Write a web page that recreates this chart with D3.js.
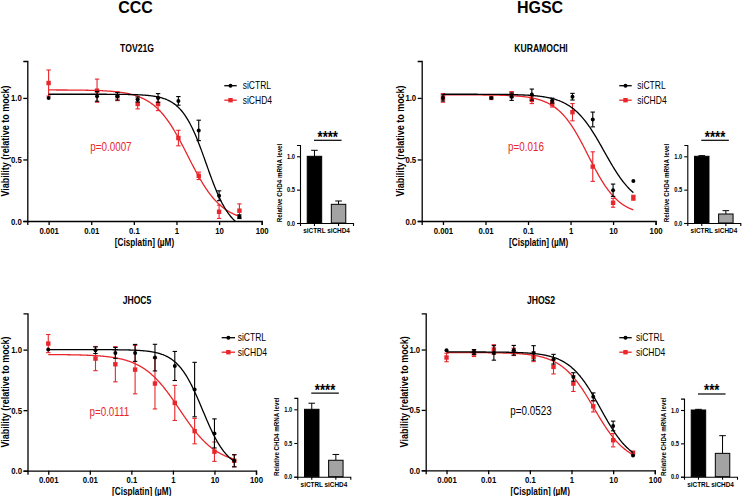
<!DOCTYPE html>
<html><head><meta charset="utf-8">
<script src="https://cdn.jsdelivr.net/npm/d3@7"></script>
<style>
body{margin:0;background:#fff}
svg{display:block}
text{font-family:"Liberation Sans",Arial,sans-serif;fill:#000}
</style>
</head><body>
<svg id="c" width="750" height="496"></svg>
<script>
// ---------- DATA ----------
const groupTitles = ["CCC", "HGSC"];
const cellLines = ["TOV21G", "KURAMOCHI", "JHOC5", "JHOS2"];
const seriesNames = ["siCTRL", "siCHD4"];
const xTicks = [0.001, 0.01, 0.1, 1, 10, 100];
const yTicks = [0, 0.5, 1.0];
const insetTicks = [0, 0.5, 1.0];

const doses9 = [0.001, 0.0137, 0.0412, 0.123, 0.37, 1.11, 3.33, 10, 30];
const doses10 = [0.001, 0.00457, 0.0137, 0.0412, 0.123, 0.37, 1.11, 3.33, 10, 30];

// TOV21G
const tovCtrl    = [1.00, 1.013, 1.013, 0.987, 1.00, 0.976, 0.736, 0.205, 0.035];
const tovCtrlErr = [0.005, 0.04, 0.03, 0.02, 0.035, 0.035, 0.083, 0.04, 0.015];
const tovChd4    = [1.121, 1.059, 1.013, 0.951, 0.951, 0.674, 0.367, 0.075, 0.084];
const tovChd4Err = [0.106, 0.094, 0.035, 0.04, 0.054, 0.063, 0.03, 0.054, 0.055];
// KURAMOCHI
const kurCtrl    = [1.00, 1.00, 1.01, 1.027, 0.978, 1.01, 0.825, 0.25, 0.326];
const kurCtrlErr = [0.025, 0.01, 0.03, 0.045, 0.02, 0.027, 0.06, 0.05, 0.0];
const kurChd4    = [1.00, 1.00, 1.027, 0.984, 0.951, 0.884, 0.442, 0.148, 0.189];
const kurChd4Err = [0.035, 0.01, 0.025, 0.03, 0.025, 0.07, 0.12, 0.036, 0.02];
// JHOC5
const jc5Ctrl    = [1.00, 0.995, 0.973, 0.973, 0.934, 0.865, 0.67, 0.308, 0.082];
const jc5CtrlErr = [0.005, 0.027, 0.045, 0.07, 0.11, 0.12, 0.225, 0.12, 0.05];
const jc5Chd4    = [1.05, 0.926, 0.879, 0.835, 0.72, 0.56, 0.327, 0.157, 0.082];
const jc5Chd4Err = [0.075, 0.1, 0.145, 0.2, 0.21, 0.145, 0.105, 0.08, 0.05];
// JHOS2
const js2Ctrl    = [0.994, 0.98, 0.972, 0.994, 0.972, 0.92, 0.773, 0.608, 0.367, 0.122];
const js2CtrlErr = [0.01, 0.02, 0.06, 0.04, 0.06, 0.04, 0.035, 0.033, 0.04, 0.008];
const js2Chd4    = [0.934, 0.967, 1.00, 0.98, 0.94, 0.856, 0.718, 0.53, 0.249, 0.146];
const js2Chd4Err = [0.035, 0.025, 0.04, 0.03, 0.04, 0.058, 0.065, 0.047, 0.055, 0.008];

// 4-parameter logistic fits: [top, bottom, IC50 (µM), Hill slope]
const tovFitCtrl = [1.03, -0.10, 5.0, 1.5];
const tovFitChd4 = [1.065, -0.01, 1.86, 1.1];
const kurFitCtrl = [1.03, 0.10, 6.2, 1.15];
const kurFitChd4 = [1.025, 0.04, 2.6, 1.2];
const jc5FitCtrl = [1.00, 0.00, 5.2, 1.42];
const jc5FitChd4 = [0.96, 0.05, 1.45, 0.97];
const js2FitCtrl = [0.98, 0.04, 5.0, 1.15];
const js2FitChd4 = [0.975, 0.05, 3.5, 1.1];

const pValues = ["p=0.0007", "p=0.016", "p=0.0111", "p=0.0523"];
const pSignificant = [true, true, true, false];

// inset: relative CHD4 mRNA level
const mrnaCats = ["siCTRL", "siCHD4"];
const mrnaTov = [1.0, 0.28];  const mrnaTovErr = [0.09, 0.05];
const mrnaKur = [1.0, 0.135]; const mrnaKurErr = [0.01, 0.05];
const mrnaJc5 = [1.0, 0.244]; const mrnaJc5Err = [0.09, 0.086];
const mrnaJs2 = [1.0, 0.35];  const mrnaJs2Err = [0.01, 0.265];
const mrnaStars = ["****", "****", "****", "***"];

// ---------- LAYOUT ----------
const RED = "#e8262b";
const SX = 0.82; // narrow (Arial Narrow-like) letter width
const layout = [
  {x0:27.3, x1:261.7, yTop:61, yBot:221, tx:137, leg:[224.3,236.7,242.7,85.7], pPos:[0.0095,0.6],
   inset:{x:300, y0:223, y1:156.3}},
  {x0:421.7, x1:655.6, yTop:61, yBot:221, tx:541, leg:[619.3,631.7,637.3,85.7], pPos:[0.034,0.6],
   inset:{x:687.3, y0:223, y1:156.3}},
  {x0:27.5, x1:256, yTop:313.3, yBot:470.7, tx:137, leg:[221.7,235,237.7,337.7], pPos:[0.0098,0.49],
   inset:{x:297.3, y0:476.7, y1:409.3}},
  {x0:425.7, x1:654.8, yTop:313.3, yBot:470.3, tx:541, leg:[619.3,631.7,636,337.7], pPos:[0.034,0.49],
   inset:{x:684, y0:476.7, y1:410}}
];

const panelData = [
  {doses:doses9, c:tovCtrl, ce:tovCtrlErr, k:tovChd4, ke:tovChd4Err, fc:tovFitCtrl, fk:tovFitChd4, m:mrnaTov, me:mrnaTovErr},
  {doses:doses9, c:kurCtrl, ce:kurCtrlErr, k:kurChd4, ke:kurChd4Err, fc:kurFitCtrl, fk:kurFitChd4, m:mrnaKur, me:mrnaKurErr},
  {doses:doses9, c:jc5Ctrl, ce:jc5CtrlErr, k:jc5Chd4, ke:jc5Chd4Err, fc:jc5FitCtrl, fk:jc5FitChd4, m:mrnaJc5, me:mrnaJc5Err},
  {doses:doses10, c:js2Ctrl, ce:js2CtrlErr, k:js2Chd4, ke:js2Chd4Err, fc:js2FitCtrl, fk:js2FitChd4, m:mrnaJs2, me:mrnaJs2Err}
];

const svg = d3.select("#c");

// narrow text helper: draws text at (x,y) with optional rotation, compressed horizontally
function ntext(parent, x, y, str, size, opts = {}) {
  const t = parent.append("text")
    .attr("transform", `translate(${x},${y})` + (opts.rot ? ` rotate(${opts.rot})` : "") + ` scale(${opts.sx || SX},1)`)
    .attr("text-anchor", opts.anchor || "start")
    .style("font-size", size + "px")
    .style("font-weight", opts.bold ? "bold" : "normal")
    .text(str);
  if (opts.fill) t.style("fill", opts.fill);
  return t;
}
function narrowAxis(a) {
  a.selectAll("text").each(function () {
    const t = d3.select(this);
    const x = +t.attr("x") || 0, y = +t.attr("y") || 0;
    t.attr("x", 0).attr("y", 0).attr("transform", `translate(${x},${y}) scale(${SX},1)`);
  });
}

// group titles
ntext(svg, 135.5, 13, groupTitles[0], 16, {anchor:"middle", bold:true, sx:1});
ntext(svg, 540, 13, groupTitles[1], 16, {anchor:"middle", bold:true, sx:1});

function fourPL(p, x){ return p[1] + (p[0]-p[1])/(1+Math.pow(x/p[2], p[3])); }

layout.forEach((L, i) => {
  const D = panelData[i];
  const g = svg.append("g");
  const x = d3.scaleLog().domain([Math.pow(10,-3.5), 100]).range([L.x0, L.x1]);
  const y = d3.scaleLinear().domain([0, 1.3]).range([L.yBot, L.yTop]);

  // title
  ntext(g, L.tx, L.yTop - 9, cellLines[i], 10.5, {anchor:"middle", bold:true});

  // axes
  const xa = g.append("g").attr("transform",`translate(0,${L.yBot})`)
    .call(d3.axisBottom(x).tickValues(xTicks).tickFormat(d3.format("~g")).tickSizeOuter(0).tickSize(4).tickPadding(2));
  const ya = g.append("g").attr("transform",`translate(${L.x0},0)`)
    .call(d3.axisLeft(y).tickValues(yTicks).tickFormat(d3.format(".1f")).tickSizeOuter(0).tickSize(4).tickPadding(1.5));
  [xa, ya].forEach(a => {
    a.selectAll("path,line").attr("stroke","#000").attr("stroke-width",1.3);
    a.selectAll("text").style("font-size","9.5px").style("font-weight","bold").attr("fill","#000");
    narrowAxis(a);
  });
  ntext(g, (L.x0+L.x1)/2, L.yBot+24.5, "[Cisplatin] (\u00b5M)", 10, {anchor:"middle", bold:true});
  ntext(g, L.x0-18.2, (L.yTop+L.yBot)/2, "Viability (relative to mock)", 10, {anchor:"middle", bold:true, rot:-90, sx:0.9});

  // clip
  const cid = "clip"+i;
  g.append("clipPath").attr("id",cid).append("rect")
    .attr("x",L.x0).attr("y",L.yTop-20).attr("width",L.x1-L.x0).attr("height",L.yBot-L.yTop+20);

  const xs = d3.range(0, 301).map(j => Math.pow(10, Math.log10(D.doses[0]) + j/300*(Math.log10(30)-Math.log10(D.doses[0]))));
  const line = d3.line().x(d=>x(d[0])).y(d=>y(d[1]));

  const series = [
    {vals:D.k, err:D.ke, fit:D.fk, color:RED, shape:"square"},
    {vals:D.c, err:D.ce, fit:D.fc, color:"#000", shape:"circle"}
  ];
  series.forEach(s => {
    g.append("path").attr("clip-path",`url(#${cid})`)
      .attr("d", line(xs.map(v => [v, fourPL(s.fit, v)])))
      .attr("fill","none").attr("stroke",s.color).attr("stroke-width",1.3);
    const eb = g.append("g").attr("stroke",s.color).attr("stroke-width",1.1);
    D.doses.forEach((d, j) => {
      const e = s.err[j]; if (e < 0.012) return;
      const cx = x(d), ya0 = y(s.vals[j]-e), ya1 = y(s.vals[j]+e);
      eb.append("line").attr("x1",cx).attr("x2",cx).attr("y1",ya0).attr("y2",ya1);
      eb.append("line").attr("x1",cx-2.2).attr("x2",cx+2.2).attr("y1",ya0).attr("y2",ya0);
      eb.append("line").attr("x1",cx-2.2).attr("x2",cx+2.2).attr("y1",ya1).attr("y2",ya1);
    });
    D.doses.forEach((d, j) => {
      if (s.shape === "circle")
        g.append("circle").attr("cx",x(d)).attr("cy",y(s.vals[j])).attr("r",2).attr("fill",s.color);
      else
        g.append("rect").attr("x",x(d)-2.2).attr("y",y(s.vals[j])-2.2).attr("width",4.4).attr("height",4.4).attr("fill",s.color);
    });
  });

  // p-value
  ntext(g, x(L.pPos[0]), y(L.pPos[1])+4.3, pValues[i], 12, {fill: pSignificant[i] ? RED : "#000"});

  // legend
  const [lx0, lx1, tx, ly] = L.leg;
  [["#000","circle"],[RED,"square"]].forEach((st, j) => {
    const yy = ly + j*14.5;
    g.append("line").attr("x1",lx0).attr("x2",lx1).attr("y1",yy).attr("y2",yy).attr("stroke",st[0]).attr("stroke-width",1.3);
    const mx = (lx0+lx1)/2;
    if (st[1]==="circle") g.append("circle").attr("cx",mx).attr("cy",yy).attr("r",2).attr("fill",st[0]);
    else g.append("rect").attr("x",mx-2.2).attr("y",yy-2.2).attr("width",4.4).attr("height",4.4).attr("fill",st[0]);
    ntext(g, tx, yy+3.7, seriesNames[j], 10.4);
  });

  // inset bar chart
  const I = L.inset;
  const iy = d3.scaleLinear().domain([0,1]).range([I.y0, I.y1]);
  const ix = d3.scaleBand().domain(mrnaCats).range([I.x, I.x+53]).paddingInner(0.4).paddingOuter(0.3);
  const ig = g.append("g");
  D.m.forEach((v, j) => {
    const c = mrnaCats[j];
    const bx = ix(c), bw = ix.bandwidth(), cx = bx + bw/2;
    const topY = iy(v), errY = iy(v + D.me[j]);
    ig.append("line").attr("x1",cx).attr("x2",cx).attr("y1",topY).attr("y2",errY).attr("stroke","#000").attr("stroke-width",1);
    ig.append("line").attr("x1",cx-3.3).attr("x2",cx+3.3).attr("y1",errY).attr("y2",errY).attr("stroke","#000").attr("stroke-width",1);
    ig.append("rect").attr("x",bx).attr("y",topY).attr("width",bw).attr("height",I.y0-topY)
      .attr("fill", j===0 ? "#000" : "#a3a3a3").attr("stroke","#000").attr("stroke-width",1);
  });
  const iya = ig.append("g").attr("transform",`translate(${I.x},0)`)
    .call(d3.axisLeft(iy.copy().domain([0,1.17]).range([I.y0, I.y0-(I.y0-I.y1)*1.17])).tickValues(insetTicks).tickFormat(d3.format(".1f")).tickSizeOuter(0).tickSize(3).tickPadding(2));
  const ixa = ig.append("g").attr("transform",`translate(0,${I.y0})`)
    .call(d3.axisBottom(ix).tickSizeOuter(0).tickSize(3).tickPadding(1.5));
  [iya, ixa].forEach(a => {
    a.selectAll("path,line").attr("stroke","#000").attr("stroke-width",1.1);
    a.selectAll("text").style("font-size","7px").style("font-weight","bold").attr("fill","#000");
  });
  ixa.selectAll("text").style("font-size","7.8px");
  narrowAxis(iya); narrowAxis(ixa);
  ntext(ig, I.x-18.5, I.y0-40, "Relative CHD4 mRNA level", 7.6, {anchor:"middle", bold:true, rot:-90});
  const sy = iy(1.24);
  const sx0 = ix(mrnaCats[0]) + ix.bandwidth()/2 - 0.5, sx1 = ix(mrnaCats[1]) + ix.bandwidth()/2 + 3;
  ig.append("line").attr("x1",sx0).attr("x2",sx1).attr("y1",sy).attr("y2",sy).attr("stroke","#000").attr("stroke-width",1.2);
  ntext(ig, (sx0+sx1)/2, sy+2.5, mrnaStars[i], 16, {anchor:"middle", bold:true});
});
</script>
</body></html>
